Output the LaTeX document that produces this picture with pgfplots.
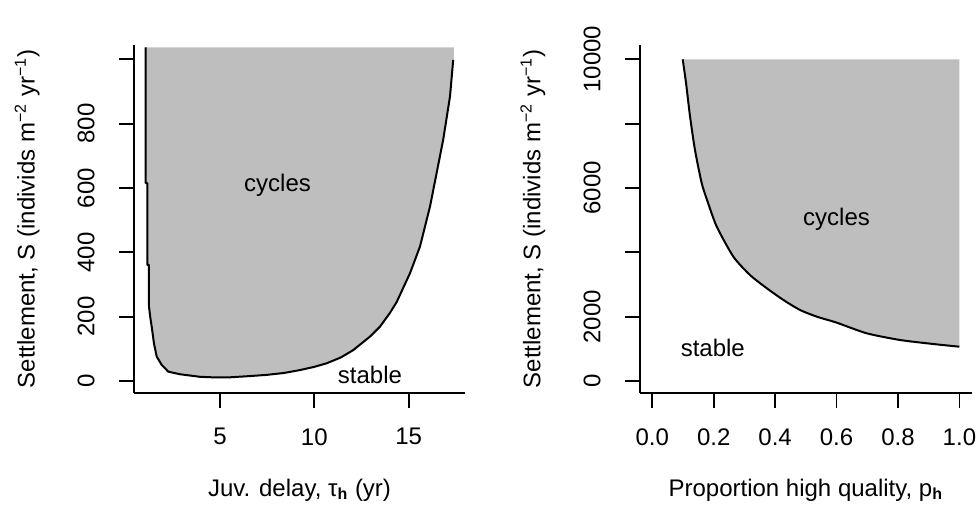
\documentclass[border=0pt]{standalone}
\usepackage{fontspec}
\setmainfont{Liberation Sans}
\usepackage{pgfplots}
\pgfplotsset{compat=1.18}
\definecolor{rgray}{HTML}{BEBEBE}

\pgfplotsset{
  rplot/.style={
    scale only axis,
    anchor=south west,
    height=174pt,
    axis lines=left,
    axis line style={-, line width=0.9pt},
    tick align=outside,
    major tick length=7.5pt,
    tick style={line width=0.9pt, black},
    scaled ticks=false,
    xticklabel shift=6pt,
    yticklabel style={rotate=90, anchor=south},
    yticklabel shift=8pt,
    every axis y label/.style={at={(axis description cs:-0.323,0.5)}, rotate=90, anchor=center},
    every axis x label/.style={at={(axis description cs:0.5,-0.279)}, anchor=center},
  },
  curve/.style={black, line width=1pt, line join=round},
}

\begin{document}
\fontsize{12}{14}\selectfont
\begin{tikzpicture}
\path[use as bounding box] (0,0) rectangle (489.5pt,254pt);

% (a) settlement vs juvenile delay
\begin{axis}[rplot,
  at={(67pt,57.5pt)}, width=165.5pt,
  xmin=0.442, xmax=17.986, ymin=-37.3, ymax=1044.5,
  xtick={5,10,15}, xticklabels={5,10,15},
  ytick={0,200,400,600,800,1000}, yticklabels={0,200,400,600,800,},
  xlabel={Juv. delay, τ\textsubscript{\bfseries h} (yr)},
  ylabel={Settlement, S (individs m\textsuperscript{−2} yr\textsuperscript{−1})},
]
\addplot[fill=rgray, draw=none] coordinates {
  (1.063,1037) (1.063,615) (1.147,615) (1.147,361) (1.237,361) (1.237,231)
  (1.30,200) (1.38,169) (1.50,117) (1.645,76) (1.91,50) (2.26,29) (2.88,21)
  (3.94,13) (4.8,11) (5.53,11.5) (6.5,15) (7.47,19) (8.4,25) (9.24,34)
  (10.0,44) (10.65,55) (11.4,73) (12.06,96) (12.95,138) (13.48,169)
  (14.0,211) (14.36,245) (15.07,335) (15.6,418) (16.13,542) (16.48,646)
  (16.83,750) (17.19,884) (17.36,998) (17.40,998) (17.40,1037)
};
\addplot[curve] coordinates {
  (1.063,1037) (1.063,615) (1.147,615) (1.147,361) (1.237,361) (1.237,231)
  (1.30,200) (1.38,169) (1.50,117) (1.645,76) (1.91,50) (2.26,29) (2.88,21)
  (3.94,13) (4.8,11) (5.53,11.5) (6.5,15) (7.47,19) (8.4,25) (9.24,34)
  (10.0,44) (10.65,55) (11.4,73) (12.06,96) (12.95,138) (13.48,169)
  (14.0,211) (14.36,245) (15.07,335) (15.6,418) (16.13,542) (16.48,646)
  (16.83,750) (17.19,884) (17.36,998)
};
\node at (axis cs:8.05,607) {cycles};
\node at (axis cs:12.95,19) {stable};
\node[anchor=east, inner sep=0pt, font=\bfseries] at (axis description cs:1,1.075) {(a)};
\end{axis}

% (b) settlement vs proportion high quality
\begin{axis}[rplot,
  at={(320pt,57.5pt)}, width=165.85pt,
  xmin=-0.040, xmax=1.040, ymin=-373, ymax=10445,
  xtick={0,0.2,0.4,0.6,0.8,1}, xticklabels={0.0,0.2,0.4,0.6,0.8,1.0},
  ytick={0,2000,4000,6000,8000,10000}, yticklabels={0,2000,,6000,,10000},
  xlabel={Proportion high quality, p\textsubscript{\bfseries h}},
  ylabel={Settlement, S (individs m\textsuperscript{−2} yr\textsuperscript{−1})},
]
\addplot[fill=rgray, draw=none] coordinates {
  (0.099,10000) (0.110,9254) (0.123,8216) (0.139,7181) (0.161,6146)
  (0.182,5524) (0.210,4796) (0.264,3864) (0.318,3295) (0.373,2882)
  (0.427,2518) (0.481,2207) (0.536,1999) (0.601,1812) (0.698,1483)
  (0.807,1274) (0.915,1150) (1.0,1066) (1.0,10000)
};
\addplot[curve, smooth, tension=0.4] coordinates {
  (0.099,10000) (0.110,9254) (0.123,8216) (0.139,7181) (0.161,6146)
  (0.182,5524) (0.210,4796) (0.264,3864) (0.318,3295) (0.373,2882)
  (0.427,2518) (0.481,2207) (0.536,1999) (0.601,1812) (0.698,1483)
  (0.807,1274) (0.915,1150) (1.0,1066)
};
\node at (axis cs:0.6,5040) {cycles};
\node at (axis cs:0.197,1016) {stable};
\node[anchor=east, inner sep=0pt, font=\bfseries] at (axis description cs:1,1.075) {(b)};
\end{axis}
\end{tikzpicture}
\end{document}
